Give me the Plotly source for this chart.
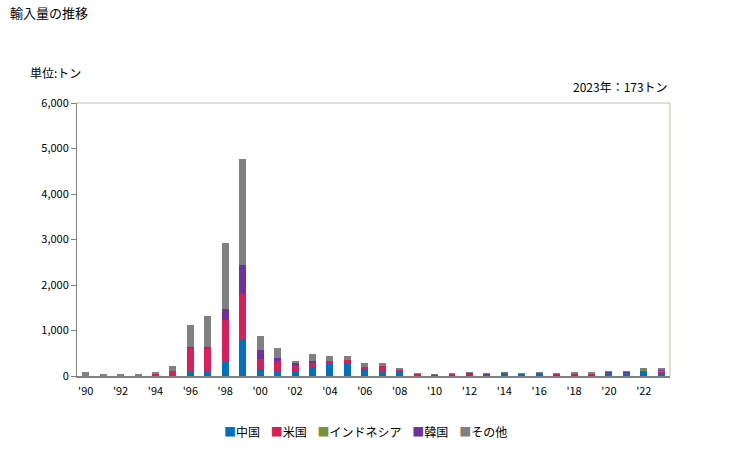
import plotly.graph_objects as go

years = list(range(1990, 2024))
china = [0, 0, 0, 0, 0, 0, 95, 95, 315, 792, 154, 100, 117, 205, 279, 293, 147, 90, 80, 22,
         35, 30, 30, 35, 45, 45, 50, 25, 40, 40, 45, 60, 90, 80]
us = [0, 0, 0, 0, 51, 110, 528, 528, 916, 1011, 213, 235, 110, 88, 58, 66, 58, 127, 52, 22,
      5, 20, 25, 5, 25, 0, 20, 25, 5, 5, 25, 10, 20, 25]
indonesia = [0, 0, 0, 0, 0, 0, 0, 0, 0, 0, 0, 0, 0, 0, 0, 0, 0, 0, 0, 0,
             0, 0, 0, 0, 0, 0, 0, 0, 10, 10, 0, 0, 25, 10]
korea = [0, 0, 0, 0, 0, 0, 15, 15, 242, 638, 205, 66, 52, 44, 0, 0, 0, 0, 0, 0,
         0, 0, 20, 15, 0, 5, 0, 10, 5, 5, 20, 20, 0, 30]
other = [88, 44, 44, 44, 22, 110, 483, 682, 1452, 2331, 308, 219, 58, 154, 110, 88, 74, 69, 22, 22,
         4, 16, 13, 11, 18, 16, 18, 6, 28, 28, 20, 20, 19, 28]

series = [
    ("中国", china, "#0070C0"),
    ("米国", us, "#D81E5B"),
    ("インドネシア", indonesia, "#77933C"),
    ("韓国", korea, "#7030A0"),
    ("その他", other, "#808080"),
]

tick_years = list(range(1990, 2024, 2))
tick_text = ["'" + str(y)[2:] for y in tick_years]

font_family = "Noto Sans CJK JP, Noto Sans, sans-serif"

fig = go.Figure()
for name, vals, color in series:
    fig.add_trace(go.Bar(x=years, y=vals, name=name, marker_color=color,
                         marker_line_width=0, showlegend=False))

legend_text = "&nbsp;&nbsp;&nbsp;&nbsp;".join(
    f"<span style='color:{c}'>■</span>{n}" for n, _, c in series)

fig.update_layout(
    barmode="stack",
    bargap=0.6,
    width=729, height=450,
    margin=dict(l=77, r=59, t=103, b=74, autoexpand=False),
    paper_bgcolor="white", plot_bgcolor="white",
    font=dict(family=font_family, size=11, color="#000000"),
    showlegend=False,
    xaxis=dict(
        range=[1989.5, 2023.5],
        tickmode="array", tickvals=tick_years, ticktext=tick_text,
        showgrid=False, showline=True, linecolor="#808080", linewidth=2,
        ticks="", tickfont=dict(size=11), ticklabelstandoff=4,
    ),
    yaxis=dict(
        range=[0, 6000], tickmode="array",
        tickvals=[0, 1000, 2000, 3000, 4000, 5000, 6000],
        ticktext=["0", "1,000", "2,000", "3,000", "4,000", "5,000", "6,000"],
        showgrid=False, showline=True, linecolor="#808080", linewidth=1,
        ticks="outside", ticklen=5, tickcolor="#808080", tickfont=dict(size=11),
    ),
    shapes=[
        dict(type="line", xref="paper", yref="paper", x0=0, x1=1, y0=1, y1=1,
             line=dict(color="#C8C0A0", width=1)),
        dict(type="line", xref="paper", yref="paper", x0=1, x1=1, y0=0, y1=1,
             line=dict(color="#C8C0A0", width=1)),
    ],
    annotations=[
        dict(text="輸入量の推移", xref="paper", yref="paper", x=-0.1164, y=1.333,
             xanchor="left", yanchor="middle", showarrow=False,
             font=dict(size=13)),
        dict(text="単位:トン", xref="paper", yref="paper", x=-0.0826, y=1.11,
             xanchor="left", yanchor="middle", showarrow=False,
             font=dict(size=12)),
        dict(text="2023年：173トン", xref="paper", yref="paper", x=1.0, y=1.062,
             xanchor="right", yanchor="middle", showarrow=False,
             font=dict(size=12)),
        dict(text=legend_text, xref="paper", yref="paper", x=0.487, y=-0.205,
             xanchor="center", yanchor="middle", showarrow=False,
             font=dict(size=12)),
    ],
)

fig.write_html("out.html")
